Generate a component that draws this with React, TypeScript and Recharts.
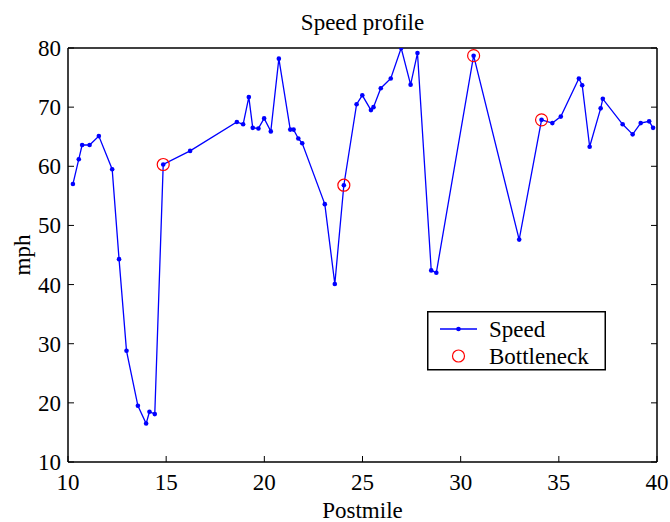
import React from "react";
import {
  ComposedChart,
  Line,
  Scatter,
  XAxis,
  YAxis,
  Label,
} from "recharts";

// postmile / speed readings
const postmile = [
  10.25, 10.55, 10.72, 11.1, 11.57, 12.25, 12.6, 12.98, 13.56, 13.98, 14.15,
  14.42, 14.85, 16.22, 18.6, 18.92, 19.21, 19.41, 19.7, 19.99, 20.33, 20.74,
  21.32, 21.49, 21.73, 21.93, 23.08, 23.59, 24.05, 24.7, 24.99, 25.43, 25.56,
  25.93, 26.44, 26.97, 27.45, 27.8, 28.5, 28.76, 30.66, 32.98, 34.12, 34.67,
  35.1, 36.02, 36.19, 36.57, 37.13, 37.24, 38.25, 38.76, 39.17, 39.6, 39.8,
];
const speed = [
  57.0, 61.2, 63.6, 63.6, 65.1, 59.5, 44.3, 28.8, 19.5, 16.5, 18.5, 18.1, 60.3,
  62.6, 67.5, 67.1, 71.7, 66.5, 66.4, 68.1, 65.9, 78.2, 66.2, 66.2, 64.7, 63.9,
  53.6, 40.1, 56.8, 70.5, 72.0, 69.5, 70.0, 73.2, 74.85, 80.0, 73.8, 79.15,
  42.4, 42.0, 78.7, 47.6, 67.85, 67.3, 68.4, 74.85, 73.7, 63.3, 69.8, 71.4,
  67.1, 65.4, 67.3, 67.6, 66.5,
];
const bottleneckPostmile = [14.85, 24.05, 30.66, 34.12];
const bottleneckSpeed = [60.3, 56.8, 78.7, 67.85];

const xTicks = [10, 15, 20, 25, 30, 35, 40];
const yTicks = [10, 20, 30, 40, 50, 60, 70, 80];
const legendNames = ["Speed", "Bottleneck"];

const FONT = '"Liberation Serif", "Times New Roman", serif';
const FS = 23;
const TICK_LEN = 6;

const speedData = postmile.map((x, i) => ({ x, y: speed[i] }));
const bottleneckData = bottleneckPostmile.map((x, i) => ({
  x,
  y: bottleneckSpeed[i],
}));

const BottomTick = ({ x, y, payload }: any) => (
  <g>
    <line x1={x} x2={x} y1={y} y2={y - TICK_LEN} stroke="#000" />
    <text x={x} y={y + 28} textAnchor="middle" fontSize={FS} fontFamily={FONT} fill="#000">
      {payload.value}
    </text>
  </g>
);
const TopTick = ({ x, y }: any) => (
  <line x1={x} x2={x} y1={y} y2={y + TICK_LEN} stroke="#000" />
);
const LeftTick = ({ x, y, payload }: any) => (
  <g>
    <line x1={x} x2={x + TICK_LEN} y1={y} y2={y} stroke="#000" />
    <text x={x - 7} y={y + 8} textAnchor="end" fontSize={FS} fontFamily={FONT} fill="#000">
      {payload.value}
    </text>
  </g>
);
const RightTick = ({ x, y }: any) => (
  <line x1={x} x2={x - TICK_LEN} y1={y} y2={y} stroke="#000" />
);

const BottleneckShape = ({ cx, cy }: any) => (
  <circle cx={cx} cy={cy} r={6} fill="none" stroke="#ff0000" strokeWidth={1.2} />
);

const LegendBox = () => (
  <svg width={179} height={60} style={{ display: "block" }}>
    <rect x={0.75} y={0.75} width={177.5} height={58} fill="#fff" stroke="#000" strokeWidth={1.5} />
    <line x1={13} x2={50} y1={18} y2={18} stroke="#0000ff" strokeWidth={1.3} />
    <circle cx={31.5} cy={18} r={2.3} fill="#0000ff" />
    <text x={62} y={26} fontSize={FS} fontFamily={FONT} fill="#000">
      {legendNames[0]}
    </text>
    <circle cx={31.5} cy={45} r={6} fill="none" stroke="#ff0000" strokeWidth={1.2} />
    <text x={62} y={53} fontSize={FS} fontFamily={FONT} fill="#000">
      {legendNames[1]}
    </text>
  </svg>
);

export default function App() {
  return (
    <div style={{ width: 670, height: 522, position: "relative" }}>
      <style>{"body{margin:0;overflow:hidden;}"}</style>
      <ComposedChart
        width={670}
        height={522}
        margin={{ top: 47, right: 12, bottom: 0, left: 0 }}
      >
        <XAxis
          xAxisId="b"
          type="number"
          dataKey="x"
          domain={[10, 40]}
          ticks={xTicks}
          interval={0}
          height={60}
          tickSize={0}
          tickMargin={0}
          tickLine={false}
          axisLine={{ stroke: "#000", strokeWidth: 1.5 }}
          tick={<BottomTick />}
          allowDataOverflow
        >
          <Label
            content={({ viewBox }: any) => (
              <text
                x={viewBox.x + viewBox.width / 2}
                y={viewBox.y + 56}
                textAnchor="middle"
                fontSize={FS}
                fontFamily={FONT}
                fill="#000"
              >
                Postmile
              </text>
            )}
          />
        </XAxis>
        <XAxis
          xAxisId="t"
          orientation="top"
          type="number"
          domain={[10, 40]}
          ticks={xTicks}
          interval={0}
          height={1}
          tickSize={0}
          tickMargin={0}
          tickLine={false}
          axisLine={{ stroke: "#000", strokeWidth: 1.5 }}
          tick={<TopTick />}
          allowDataOverflow
        >
          <Label
            content={({ viewBox }: any) => (
              <text
                x={viewBox.x + viewBox.width / 2}
                y={30}
                textAnchor="middle"
                fontSize={FS}
                fontFamily={FONT}
                fill="#000"
              >
                Speed profile
              </text>
            )}
          />
        </XAxis>
        <YAxis
          yAxisId="l"
          type="number"
          domain={[10, 80]}
          ticks={yTicks}
          interval={0}
          width={68}
          tickSize={0}
          tickMargin={0}
          tickLine={false}
          axisLine={{ stroke: "#000", strokeWidth: 1.5 }}
          tick={<LeftTick />}
          allowDataOverflow
        >
          <Label
            content={({ viewBox }: any) => {
              const cy = viewBox.y + viewBox.height / 2;
              return (
                <text
                  x={30}
                  y={cy}
                  transform={`rotate(-90, 30, ${cy})`}
                  textAnchor="middle"
                  fontSize={FS}
                  fontFamily={FONT}
                  fill="#000"
                >
                  mph
                </text>
              );
            }}
          />
        </YAxis>
        <YAxis
          yAxisId="r"
          orientation="right"
          type="number"
          domain={[10, 80]}
          ticks={yTicks}
          interval={0}
          width={1}
          tickSize={0}
          tickMargin={0}
          tickLine={false}
          axisLine={{ stroke: "#000", strokeWidth: 1.5 }}
          tick={<RightTick />}
          allowDataOverflow
        />
        <Line
          xAxisId="b"
          yAxisId="l"
          name={legendNames[0]}
          data={speedData}
          dataKey="y"
          type="linear"
          stroke="#0000ff"
          strokeWidth={1.3}
          dot={{ r: 2.3, fill: "#0000ff", stroke: "none" }}
          activeDot={false}
          isAnimationActive={false}
        />
        <Scatter
          xAxisId="b"
          yAxisId="l"
          name={legendNames[1]}
          data={bottleneckData}
          dataKey="y"
          shape={<BottleneckShape />}
          isAnimationActive={false}
        />
      </ComposedChart>
      <div style={{ position: "absolute", left: 427, top: 311 }}>
        <LegendBox />
      </div>
    </div>
  );
}
